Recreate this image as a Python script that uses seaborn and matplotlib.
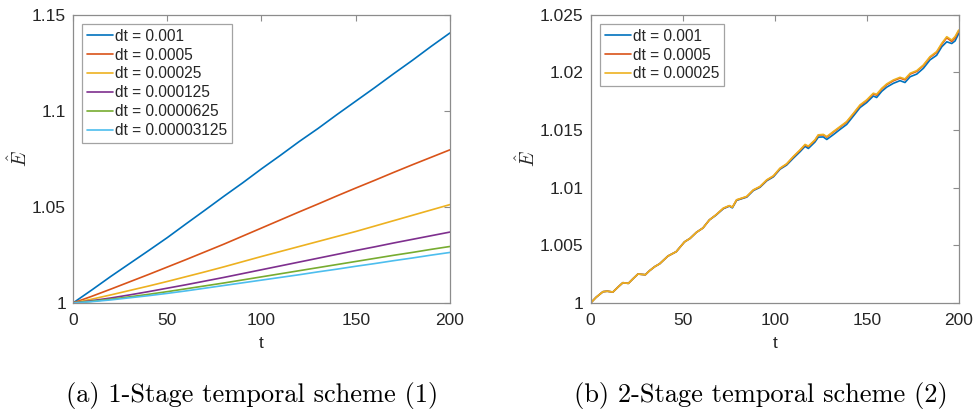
import matplotlib
matplotlib.use("Agg")
import matplotlib.pyplot as plt
import seaborn as sns
from matplotlib.ticker import FuncFormatter

# ---- data ----
dt_labels_a = ["dt = 0.001", "dt = 0.0005", "dt = 0.00025", "dt = 0.000125",
               "dt = 0.0000625", "dt = 0.00003125"]
dt_labels_b = ["dt = 0.001", "dt = 0.0005", "dt = 0.00025"]
colors = ["#0072BD", "#D95319", "#EDB120", "#7E2F8E", "#77AC30", "#4DBEEE"]

t_a = [0, 10, 20, 30, 40, 50, 60, 70, 80, 90, 100, 110, 120, 130, 140, 150,
       160, 170, 180, 190, 200]
e_a_001 = [1.0000, 1.0068, 1.0138, 1.0205, 1.0272, 1.0340, 1.0412, 1.0483, 1.0555,
           1.0625, 1.0698, 1.0768, 1.0840, 1.0908, 1.0980, 1.1050, 1.1120, 1.1192,
           1.1262, 1.1335, 1.1405]
e_a_0005 = [1.0000, 1.0035, 1.0072, 1.0110, 1.0148, 1.0187, 1.0226, 1.0266, 1.0306,
            1.0348, 1.0390, 1.0432, 1.0474, 1.0515, 1.0557, 1.0598, 1.0638, 1.0679,
            1.0719, 1.0758, 1.0797]
e_a_00025 = [1.0000, 1.0020, 1.0042, 1.0065, 1.0088, 1.0112, 1.0137, 1.0162, 1.0188,
             1.0215, 1.0242, 1.0268, 1.0294, 1.0320, 1.0346, 1.0372, 1.0400, 1.0428,
             1.0456, 1.0484, 1.0512]
e_a_000125 = [1.0000, 1.0012, 1.0026, 1.0042, 1.0059, 1.0077, 1.0095, 1.0114, 1.0133,
              1.0153, 1.0173, 1.0193, 1.0213, 1.0233, 1.0253, 1.0273, 1.0292, 1.0312,
              1.0331, 1.0350, 1.0369]
e_a_0000625 = [1.0000, 1.0009, 1.0020, 1.0032, 1.0045, 1.0059, 1.0074, 1.0089, 1.0104,
               1.0120, 1.0136, 1.0152, 1.0168, 1.0184, 1.0200, 1.0216, 1.0232, 1.0248,
               1.0263, 1.0279, 1.0294]
e_a_00003125 = [1.0000, 1.0007, 1.0016, 1.0027, 1.0038, 1.0050, 1.0063, 1.0077, 1.0091,
                1.0105, 1.0119, 1.0133, 1.0147, 1.0162, 1.0176, 1.0191, 1.0205, 1.0220,
                1.0234, 1.0249, 1.0263]

t_b = [0, 3, 6.7, 9, 12.1, 15, 17.5, 20.5, 23, 25.7, 29.7, 32, 34.8, 37.5, 42, 46.5,
       51, 54, 57.5, 61, 64.5, 68, 72.1, 75.4, 77, 79.3, 84.8, 88.4, 92, 95.7, 99.3,
       102.9, 106.5, 110.1, 113.8, 116.5, 118.3, 121.9, 123.7, 126.4, 128.3, 131.9,
       135.5, 139.1, 142.8, 146.4, 150, 153.6, 155.4, 158.2, 160.9, 164.5, 168.1,
       170.8, 173.6, 177.2, 180.8, 184.4, 188, 190.8, 193.5, 196.2, 198, 200]
e_b_00025 = [1.0000, 1.0005, 1.00098, 1.00102, 1.00095, 1.0014, 1.00176, 1.0017,
             1.0021, 1.00251, 1.00245, 1.0028, 1.00315, 1.0034, 1.00407, 1.00445,
             1.0053, 1.0056, 1.00613, 1.0065, 1.0072, 1.00763, 1.00823, 1.00845,
             1.0083, 1.00895, 1.00924, 1.00981, 1.0101, 1.01068, 1.01103, 1.01169,
             1.01207, 1.0127, 1.01328, 1.01375, 1.0136, 1.01415, 1.01458, 1.01462,
             1.01443, 1.01487, 1.0153, 1.01573, 1.01645, 1.01718, 1.01761, 1.01819,
             1.0181, 1.01862, 1.019, 1.01934, 1.01957, 1.01943, 1.01992, 1.02015,
             1.02064, 1.02136, 1.0218, 1.02252, 1.02309, 1.0228, 1.0231, 1.02367]
e_b_0005 = [1.0000, 1.0005, 1.00098, 1.00102, 1.00095, 1.0014, 1.00176, 1.0017,
            1.0021, 1.00251, 1.00245, 1.0028, 1.00315, 1.0034, 1.00407, 1.00445,
            1.0053, 1.0056, 1.00613, 1.0065, 1.0072, 1.00763, 1.0082, 1.00843,
            1.0083, 1.00893, 1.00922, 1.00979, 1.01008, 1.01065, 1.011, 1.01166,
            1.01204, 1.01266, 1.01324, 1.0137, 1.01356, 1.0141, 1.01455, 1.01458,
            1.01438, 1.01482, 1.01525, 1.01568, 1.0164, 1.01712, 1.01755, 1.01813,
            1.01802, 1.01856, 1.01893, 1.01927, 1.0195, 1.01935, 1.01985, 1.02008,
            1.02058, 1.0213, 1.02172, 1.02244, 1.023, 1.02268, 1.02298, 1.0236]
e_b_001 = [1.0000, 1.0005, 1.00098, 1.00102, 1.00095, 1.0014, 1.00176, 1.0017,
           1.0021, 1.00251, 1.00245, 1.0028, 1.00315, 1.0034, 1.00407, 1.00445,
           1.0053, 1.0056, 1.00613, 1.0065, 1.0072, 1.0076, 1.00818, 1.0084,
           1.00825, 1.0089, 1.00918, 1.00975, 1.01003, 1.0106, 1.01094, 1.0116,
           1.01196, 1.01255, 1.01312, 1.01358, 1.0134, 1.01396, 1.01438, 1.0144,
           1.01418, 1.0146, 1.01505, 1.01548, 1.01622, 1.01695, 1.01738, 1.01795,
           1.01782, 1.01836, 1.01872, 1.01905, 1.01928, 1.01912, 1.01962, 1.01985,
           1.02035, 1.02108, 1.02148, 1.02222, 1.02265, 1.0225, 1.02272, 1.02336]

series_a = [e_a_001, e_a_0005, e_a_00025, e_a_000125, e_a_0000625, e_a_00003125]
series_b = [e_b_001, e_b_0005, e_b_00025]

# ---- styling ----
sns.set_style("white")
plt.rcParams["font.family"] = ["Liberation Sans", "DejaVu Sans"]
plt.rcParams["mathtext.fontset"] = "cm"

axis_gray = "#8c8c8c"
text_gray = "#262626"

fig = plt.figure(figsize=(9.75, 4.15), dpi=100)
ax1 = fig.add_axes([0.0749, 0.2699, 0.3866, 0.6947])
ax2 = fig.add_axes([0.6058, 0.2699, 0.3775, 0.6947])


def style_axes(ax, yticks, ylim):
    ax.set_xlim(0, 200)
    ax.set_ylim(*ylim)
    ax.set_xticks([0, 50, 100, 150, 200])
    ax.set_yticks(yticks)
    ax.yaxis.set_major_formatter(FuncFormatter(lambda v, p: f"{v:g}"))
    ax.tick_params(direction="in", length=4, width=0.8, color=axis_gray,
                   labelsize=12.5, labelcolor=text_gray,
                   top=True, right=True, pad=5)
    ax.tick_params(axis="x", pad=7)
    for s in ax.spines.values():
        s.set_color(axis_gray)
        s.set_linewidth(0.9)
    ax.set_xlabel("t", fontsize=12.5, color=text_gray, labelpad=6)
    ax.set_ylabel(r"$\hat{E}$", fontsize=14, color=text_gray, labelpad=1)


for vals, lab, col in zip(series_a, dt_labels_a, colors):
    sns.lineplot(x=t_a, y=vals, ax=ax1, color=col, label=lab, linewidth=1.2)
for vals, lab, col in zip(series_b, dt_labels_b, colors):
    sns.lineplot(x=t_b, y=vals, ax=ax2, color=col, label=lab, linewidth=1.2)

style_axes(ax1, [1, 1.05, 1.1, 1.15], (1, 1.15))
style_axes(ax2, [1, 1.005, 1.01, 1.015, 1.02, 1.025], (1, 1.025))

for ax in (ax1, ax2):
    leg = ax.legend(loc="upper left", fontsize=11.2, frameon=True, fancybox=False,
                    handlelength=1.7, handletextpad=0.1, labelspacing=0.25,
                    borderpad=0.3, borderaxespad=0.6)
    leg.get_frame().set_edgecolor(axis_gray)
    leg.get_frame().set_linewidth(0.9)
    for txt in leg.get_texts():
        txt.set_color(text_gray)

fig.text(0.2585, 0.048, "(a) 1-Stage temporal scheme (1)", family="cmr10",
         fontsize=19, ha="center", va="center", color="black")
fig.text(0.780, 0.048, "(b) 2-Stage temporal scheme (2)", family="cmr10",
         fontsize=19, ha="center", va="center", color="black")

fig.savefig("out.png", dpi=100)
